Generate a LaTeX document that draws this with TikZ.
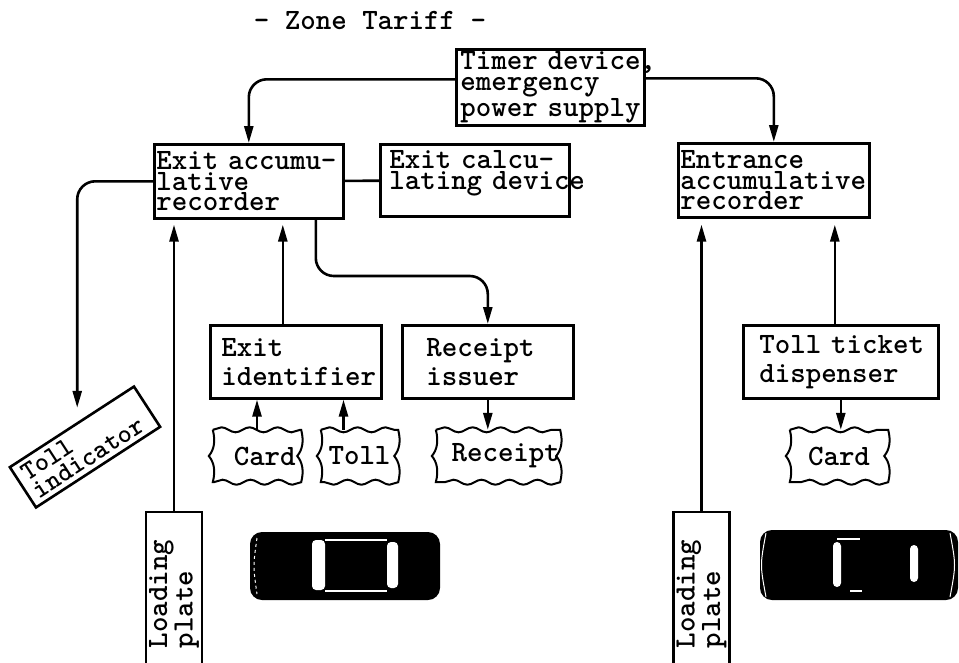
\documentclass[tikz,border=0pt]{standalone}
\usetikzlibrary{arrows.meta,decorations.pathmorphing}

\newcommand{\boxfont}{\fontseries{b}\ttfamily\fontsize{29.5}{20.5}\selectfont\hyphenpenalty=10000 }
\newcommand{\lowfont}{\fontseries{b}\ttfamily\fontsize{29.5}{29}\selectfont\hyphenpenalty=10000 }
\newcommand{\sidefont}{\fontseries{b}\ttfamily\fontsize{29.5}{22.5}\selectfont\hyphenpenalty=10000 }
\newcommand{\tiltfont}{\fontseries{b}\ttfamily\fontsize{27}{21}\selectfont\hyphenpenalty=10000 }

% wavy outline round a card or slip node
\newcommand{\slipedge}[1]{%
  \draw[line width=2pt, decoration={snake, segment length=28pt, amplitude=2.5pt}]
    (#1.north west) decorate {-- (#1.north east)}
    .. controls +(3pt,-12pt) and +(5pt,6pt) .. ([xshift=-4pt]#1.east)
    .. controls +(5pt,-6pt) and +(3pt,12pt) .. (#1.south east)
    decorate {-- (#1.south west)}
    .. controls +(3pt,12pt) and +(5pt,-6pt) .. ([xshift=-4pt]#1.west)
    .. controls +(5pt,6pt) and +(3pt,-12pt) .. (#1.north west);}

\begin{document}
\begin{tikzpicture}[
    block/.style={draw, line width=2.6pt, anchor=north west, inner ysep=0pt,
      minimum height=74pt, align=left, font=\boxfont},
    lower/.style={block, minimum height=73pt, font=\lowfont},
    slip/.style={minimum height=52pt, inner sep=0pt, font=\boxfont},
    plate/.style={draw, line width=2.6pt, rotate=90, minimum height=56pt,
      text width=116pt, inner xsep=20pt, inner ysep=0pt, align=left, font=\sidefont},
    wire/.style={line width=2.6pt},
    flow/.style={wire, -{Triangle[length=17pt,width=9pt]}},
    body/.style={fill=black, rounded corners=12pt},
    glass/.style={fill=white, rounded corners=4pt},
  ]
\useasboundingbox (0,0) rectangle (959pt,-662pt);

\node[font=\boxfont] (title) at (370pt,-20pt) {- Zone Tariff -};

% recorders and devices
\node[block, minimum height=76pt, text width=180pt, inner xsep=4pt]
  (timer) at (455pt,-48pt) {Timer~device,\\emergency\\power~supply};
\node[block, text width=185pt, inner xsep=2pt]
  (exitacc) at (153pt,-143pt) {Exit~accumu-\\lative\\recorder};
\node[block, minimum height=72pt, text width=171pt, inner xsep=9pt]
  (exitcalc) at (379pt,-143pt) {Exit calcu-\\lating~device\\\mbox{}};
\node[block, text width=187pt, inner xsep=2pt]
  (entrance) at (677pt,-142pt) {Entrance\\accumulative\\recorder};

\node[lower, text width=149pt, inner xsep=11pt]
  (exitid) at (209pt,-324pt) {Exit\\identifier};
\node[lower, text width=123pt, inner xsep=24pt]
  (issuer) at (401pt,-324pt) {Receipt\\issuer};
\node[lower, text width=163pt, inner xsep=16pt]
  (ticket) at (742pt,-324pt) {Toll~ticket\\dispenser};

% cards and slips
\node[slip, minimum width=88pt] (card1) at (257pt,-456pt) {~Card};
\node[slip, minimum width=77pt] (tollslip) at (359.5pt,-456pt) {Toll};
\node[slip, minimum width=104pt] (receipt) at (498pt,-456pt) {~Receipt};
\node[slip, minimum width=98pt] (card2) at (839pt,-456pt) {Card};
\slipedge{card1}
\slipedge{tollslip}
\slipedge{receipt}
\slipedge{card2}

\node[draw, line width=2.6pt, rotate=33, minimum width=148pt, minimum height=48pt,
  text width=134pt, inner xsep=7pt, inner ysep=0pt, align=left, font=\tiltfont]
  (tollind) at (85pt,-447pt) {Toll\\indicator};

\node[plate] (plate1) at (174pt,-590pt) {Loading\\plate};
\node[plate] (plate2) at (701.5pt,-590pt) {Loading\\plate};

% connections
\draw[flow, rounded corners=18pt] ([yshift=8pt]timer.west) -| (exitacc.north);
\draw[flow, rounded corners=18pt] ([yshift=9pt]timer.east) -| (entrance.north);
\draw[wire] (exitacc) -- (exitcalc);
\draw[flow, rounded corners=18pt, shorten >=18pt]
  (exitacc.west) -| ([xshift=6pt]tollind.north);
\draw[flow, shorten >=5pt] (plate1.east) -- (plate1.east |- exitacc.south);
\draw[flow, shorten >=5pt]
  ([xshift=-13pt]exitid.north) coordinate (idtop) -- (idtop |- exitacc.south);
\coordinate (bend) at (400pt,-276pt);
\draw[flow, rounded corners=18pt] ([xshift=67pt]exitacc.south) |- (bend) -| (issuer.north);

\draw[flow] (card1.north) -- (card1.north |- exitid.south);
\draw[flow] ([xshift=-16pt]tollslip.north) coordinate (tolltop) -- (tolltop |- exitid.south);
\draw[flow] (issuer.south) -- (issuer.south |- receipt.north);

\draw[flow, shorten >=6pt]
  ([xshift=-6pt]ticket.north) coordinate (tktop) -- (tktop |- entrance.south);
\draw[flow] (ticket.south) -- (ticket.south |- card2.north);
\draw[flow, shorten >=6pt] (plate2.east) -- (plate2.east |- entrance.south);

% cars seen from above
\fill[body] (250pt,-532pt) rectangle (440pt,-600pt);
\fill[glass] (312pt,-540pt) rectangle (325pt,-590pt);
\fill[glass] (387pt,-542pt) rectangle (398pt,-588pt);
\draw[white, line width=1.5pt] (325pt,-540pt) -- (387pt,-540pt)
  (325pt,-591pt) -- (387pt,-591pt);
\draw[white, line width=1pt, dashed] (257pt,-538pt) .. controls (253pt,-566pt) .. (257pt,-594pt);

\fill[body] (760pt,-530pt) rectangle (958pt,-600pt);
\fill[glass] (833pt,-542pt) rectangle (841pt,-587pt);
\fill[glass] (910pt,-545pt) rectangle (918pt,-582pt);
\draw[white, line width=1.5pt] (837pt,-539pt) -- (860pt,-539pt)
  (850pt,-591pt) -- (862pt,-591pt);
\draw[white, line width=1pt] (766pt,-533pt) .. controls (760pt,-565pt) .. (766pt,-597pt);
\draw[white, line width=1pt] (950pt,-533pt) .. controls (956pt,-565pt) .. (950pt,-597pt);
\end{tikzpicture}
\end{document}
